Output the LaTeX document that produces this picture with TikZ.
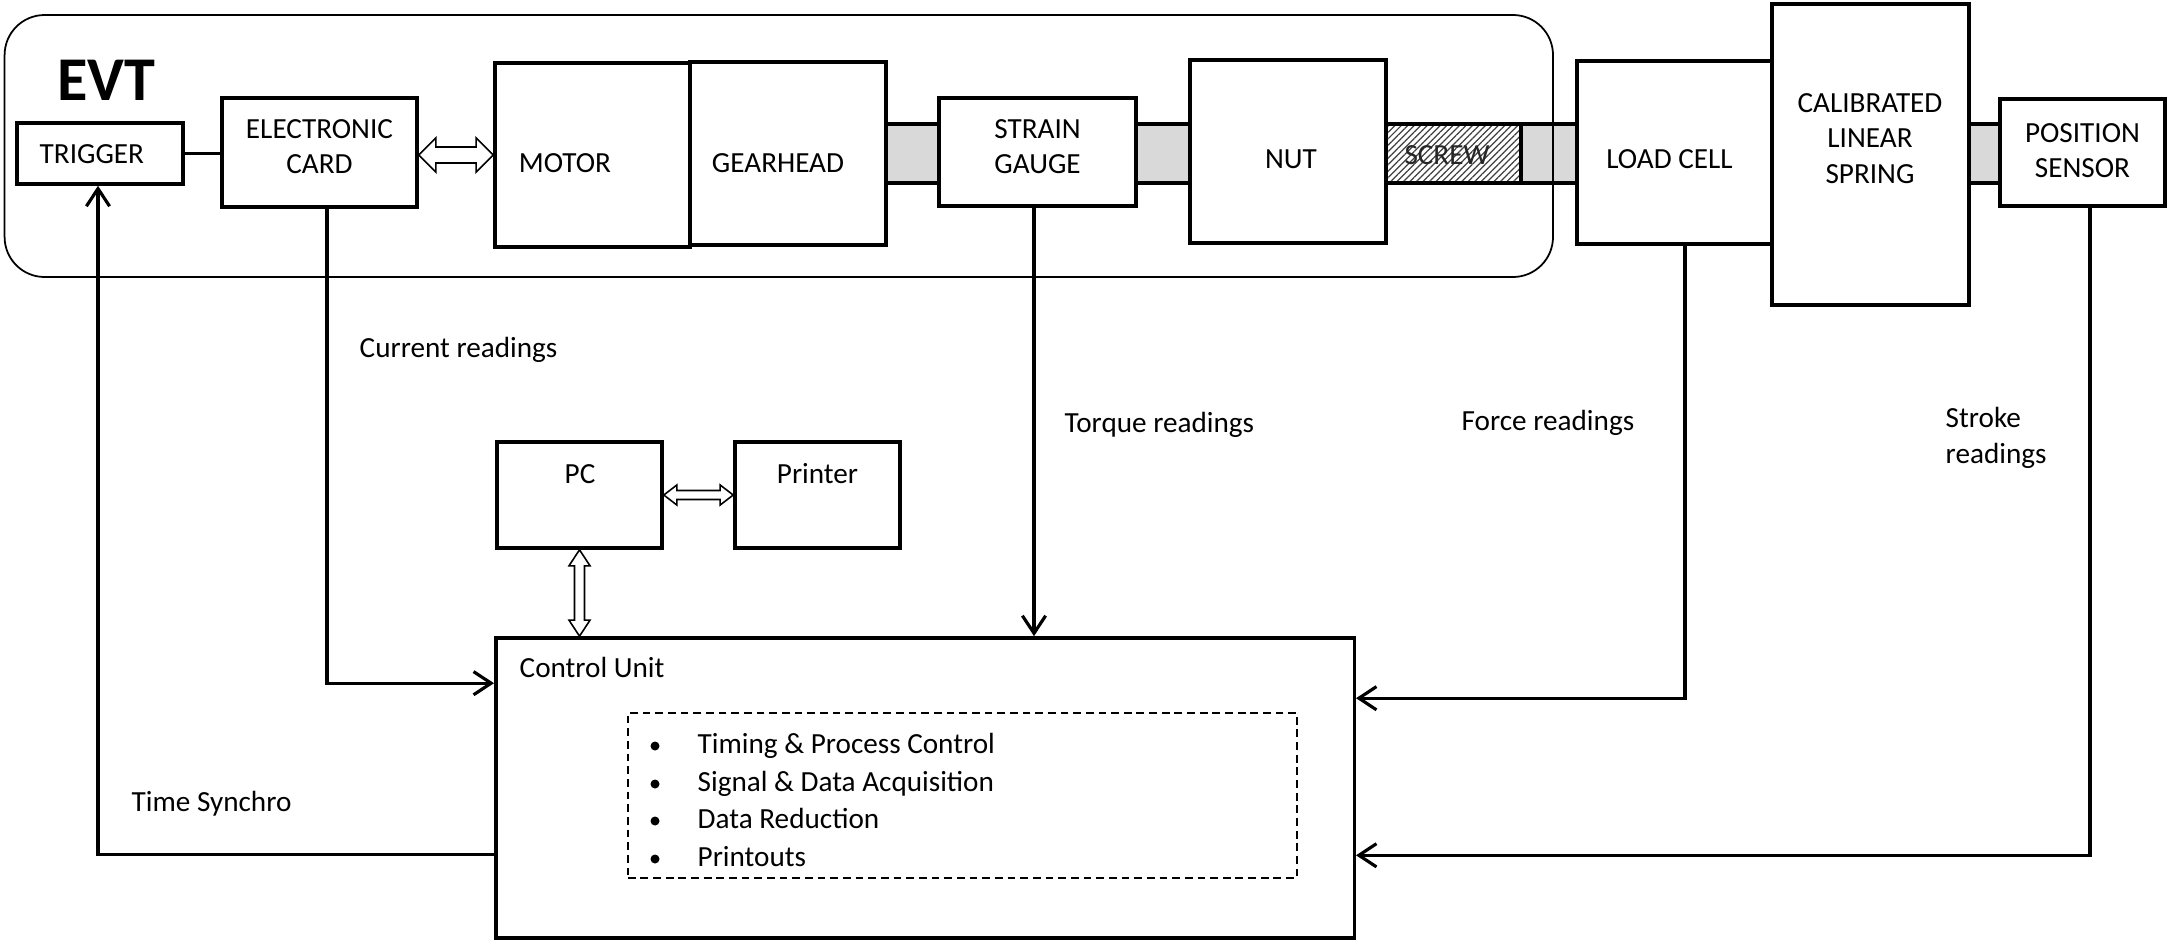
\documentclass[tikz,border=0pt]{standalone}
\usepackage{fontspec}
\setmainfont{Carlito}
\usetikzlibrary{arrows.meta,calc,patterns.meta,backgrounds}

\tikzset{
  box/.style={draw, line width=1pt, fill=white, inner sep=0pt, rectangle},
  screwbox/.style={draw, line width=1pt, inner sep=0pt, rectangle, preaction={fill=white},
    pattern={Lines[angle=45,distance=1.3pt,line width=0.35pt]}, pattern color=black!75},
  lbl/.style={inner sep=0pt, font=\fontsize{8.3}{10}\selectfont},
  conn/.style={line width=0.9pt},
  arr/.style={line width=0.9pt, -{Straight Barb[length=5pt,width=6.6pt,line width=0.9pt]}},
  hollow/.style={draw, fill=white, line width=0.45pt, line join=miter},
  shaftfill/.style={fill=black!15},
  shaftline/.style={line width=1pt},
  bulletdot/.style={circle, fill=black, inner sep=0pt, minimum size=0.09cm},
}

% horizontal hollow double arrow: #1 left end, #2 right end, #3 head length, #4 half head, #5 half shaft
\newcommand{\hollowH}[5]{%
  \draw[hollow] (#1) -- ($(#1)+(#3,-#4)$) -- ($(#1)+(#3,-#5)$) -- ($(#2)+(-#3,-#5)$)
    -- ($(#2)+(-#3,-#4)$) -- (#2) -- ($(#2)+(-#3,#4)$) -- ($(#2)+(-#3,#5)$)
    -- ($(#1)+(#3,#5)$) -- ($(#1)+(#3,#4)$) -- cycle;}
% vertical hollow double arrow: #1 top end, #2 bottom end
\newcommand{\hollowV}[5]{%
  \draw[hollow] (#1) -- ($(#1)+(-#4,#3)$) -- ($(#1)+(-#5,#3)$) -- ($(#2)+(-#5,-#3)$)
    -- ($(#2)+(-#4,-#3)$) -- (#2) -- ($(#2)+(#4,-#3)$) -- ($(#2)+(#5,-#3)$)
    -- ($(#1)+(#5,#3)$) -- ($(#1)+(#4,#3)$) -- cycle;}

\begin{document}
\begin{tikzpicture}[x=0.01cm,y=-0.01cm]
\useasboundingbox (0,0) rectangle (2179,945);

% ---- boxes ----
\node[box, minimum width=1.66cm, minimum height=0.61cm] (trigger) at (100,153.5) {};
\node[box, minimum width=1.95cm, minimum height=1.09cm] (card) at (319.5,152.5) {};
\node[box, minimum width=1.95cm, minimum height=1.84cm] (motor) at (592.5,155) {};
\node[box, minimum width=1.96cm, minimum height=1.83cm] (gear) at (788,153.5) {};
\node[box, minimum width=1.97cm, minimum height=1.08cm] (sg) at (1037.5,152) {};
\node[box, minimum width=1.96cm, minimum height=1.83cm] (nut) at (1288,151.5) {};
\node[screwbox, minimum width=1.35cm, minimum height=0.59cm] (screw) at (1453.5,153.5) {};
\node[box, minimum width=1.95cm, minimum height=1.83cm] (load) at (1674.5,152.5) {};
\node[box, minimum width=1.97cm, minimum height=3.01cm] (spring) at (1870.5,154.5) {};
\node[box, minimum width=1.65cm, minimum height=1.07cm] (pos) at (2082.5,152.5) {};
\node[box, minimum width=1.65cm, minimum height=1.06cm] (pc) at (579.5,495) {};
\node[box, minimum width=1.65cm, minimum height=1.06cm] (printer) at (817.5,495) {};
\node[box, minimum width=8.58cm, minimum height=3.00cm] (cu) at (925,788) {};
\node[draw, line width=0.45pt, dash pattern=on 2.2pt off 1.4pt, inner sep=0pt,
      minimum width=6.69cm, minimum height=1.65cm] (list) at (962.5,795.5) {};

% ---- shafts (behind the boxes) ----
\begin{scope}[on background layer]
  \fill[shaftfill] (gear.east |- 0,124) rectangle (load.west |- 0,183);
  \draw[shaftline] (gear.east |- 0,124) -- (load.west |- 0,124)
                   (gear.east |- 0,183) -- (load.west |- 0,183);
  \fill[shaftfill] (spring.east |- 0,124) rectangle (pos.west |- 0,183);
  \draw[shaftline] (spring.east |- 0,124) -- (pos.west |- 0,124)
                   (spring.east |- 0,183) -- (pos.west |- 0,183);
\end{scope}

% ---- texts ----
\node[lbl, font=\fontsize{17.7}{20}\selectfont\bfseries, anchor=base] (evtT) at (106.5,100) {EVT};
\node[lbl, anchor=base west] (triggerT) at (39,163) {TRIGGER};
\node[lbl, align=center] (cardT) at (319.5,147) {ELECTRONIC\\CARD};
\node[lbl, anchor=base] (motorT) at (565,172) {MOTOR};
\node[lbl, anchor=base] (gearT) at (778,172) {GEARHEAD};
\node[lbl, align=center] (sgT) at (1037.5,147) {STRAIN\\GAUGE};
\node[lbl, anchor=base] (nutT) at (1291,168) {NUT};
\node[lbl, anchor=base, text=black!85] (screwT) at (1447,164) {SCREW};
\node[lbl, anchor=base] (loadT) at (1669.5,168) {LOAD CELL};
\node[lbl, align=center] (springT) at (1870,138.5) {CALIBRATED\\LINEAR\\SPRING};
\node[lbl, align=center] (posT) at (2082.5,151) {POSITION\\SENSOR};
\node[lbl, anchor=base] (pcT) at (580,483) {PC};
\node[lbl, anchor=base] (printerT) at (817.5,483) {Printer};
\node[lbl, anchor=base west] (cuT) at (519,677) {Control Unit};

\node[bulletdot] (b1) at (655,746) {};
\node[bulletdot] (b2) at (655,784) {};
\node[bulletdot] (b3) at (655,821) {};
\node[bulletdot] (b4) at (655,859) {};
\node[lbl, anchor=base west] (i1) at (697,753) {Timing \& Process Control};
\node[lbl, anchor=base west] (i2) at (697,791) {Signal \& Data Acquisition};
\node[lbl, anchor=base west] (i3) at (697,828) {Data Reduction};
\node[lbl, anchor=base west] (i4) at (697,866) {Printouts};

\node[lbl, anchor=base west] (currT) at (359,357) {Current readings};
\node[lbl, anchor=base west] (torqT) at (1064,432) {Torque readings};
\node[lbl, anchor=base west] (forceT) at (1461,430) {Force readings};
\node[lbl, anchor=base west] (strokeA) at (1945,427) {Stroke};
\node[lbl, anchor=base west] (strokeB) at (1945,463) {readings};
\node[lbl, anchor=base west] (timeT) at (131,811) {Time Synchro};

% ---- connectors ----
\draw[conn] (trigger.east) -- (trigger.east -| card.west);

\coordinate (cardout) at ([xshift=0.075cm]card.south);
\draw[arr] (cardout) |- ([yshift=-0.47cm]cu.north west);

\coordinate (sgout) at ([xshift=-0.035cm]sg.south);
\draw[arr] (sgout) -- (sgout |- cu.north);

\coordinate (loadout) at ([xshift=0.105cm]load.south);
\draw[arr] (loadout) |- ([yshift=-0.62cm]cu.north east);

\coordinate (posout) at ([xshift=0.075cm]pos.south);
\draw[arr] (posout) |- ([yshift=-2.19cm]cu.north east);

\coordinate (trigin) at ([xshift=-0.02cm]trigger.south);
\draw[arr] ([yshift=-2.18cm]cu.north west) -| (trigin);

% hollow double arrows
\coordinate (cmL) at (card.east |- motor.west);
\hollowH{cmL}{motor.west}{17}{17}{8}
\hollowH{pc.east}{printer.west}{13}{10}{4.5}
\coordinate (pcB) at (pc.south);
\coordinate (cuTop) at (pc.south |- cu.north);
\hollowV{pcB}{cuTop}{16}{10.5}{5}

% ---- EVT enclosure ----
\draw[line width=0.5pt, rounded corners=0.4cm] (4.6,15) rectangle (1553,277);
\end{tikzpicture}
\end{document}
